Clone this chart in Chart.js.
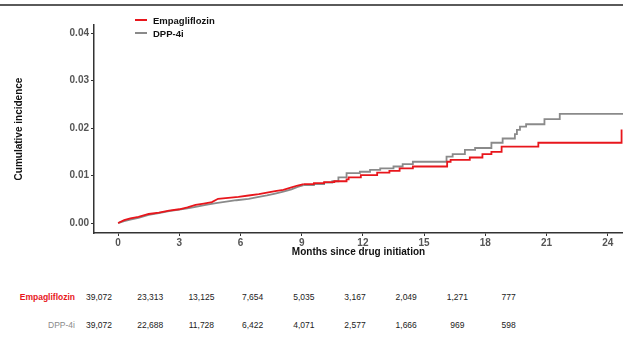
<!DOCTYPE html>
<html>
<head>
<meta charset="utf-8">
<script src="https://cdn.jsdelivr.net/npm/chart.js@4"></script>
<style>
  body { margin: 0; width: 623px; height: 345px; background: #fff; position: relative; overflow: hidden;
         font-family: "Liberation Sans", Arial, sans-serif; }
  #topRule { position: absolute; left: 0; top: 4px; width: 623px; height: 2px; background: #5a5a5a; }
  #chartBox { position: absolute; left: 0; top: 0; width: 623px; height: 262px; }
  #legend { position: absolute; left: 135px; top: 14px; font-size: 9.5px; font-weight: bold; color: #111; }
  #legend .item { height: 13px; line-height: 13px; white-space: nowrap; }
  #legend .swatch { display: inline-block; width: 12px; height: 2px; vertical-align: middle; margin-right: 6px; position: relative; top: -1px; }
  .risk { position: absolute; font-size: 8.5px; color: #222; line-height: 10px; white-space: nowrap; }
  .riskLabel { position: absolute; right: 548px; font-size: 8.5px; line-height: 10px; white-space: nowrap; }
</style>
</head>
<body>
<div id="topRule"></div>
<div id="chartBox"><canvas id="incChart" width="623" height="262"></canvas></div>
<div id="legend"></div>
<div id="riskTable"></div>

<script>
// --- data ---
const empaMonths = [0, 0.3, 0.6, 1.0, 1.5, 2.0, 2.5, 3.0, 3.4, 3.8, 4.2, 4.6, 4.9, 5.4, 5.9, 6.4, 6.9, 7.3, 7.7, 8.1, 8.5, 8.8, 9.1, 9.6, 10.1, 10.6, 11.2, 11.3, 11.9, 12.7, 13.3, 13.8, 14.45, 16.13, 16.3, 17.24, 17.86, 18.3, 18.8, 20.6, 24.68];
const empaValues = [0, 0.0006, 0.0010, 0.0013, 0.0019, 0.0022, 0.0026, 0.0029, 0.0033, 0.0038, 0.0041, 0.0044, 0.0051, 0.0053, 0.0055, 0.0058, 0.0061, 0.0064, 0.0067, 0.0070, 0.0075, 0.0079, 0.0082, 0.0084, 0.0086, 0.0088, 0.0092, 0.0096, 0.0101, 0.0106, 0.0110, 0.0115, 0.0119, 0.0129, 0.0133, 0.0138, 0.0145, 0.0150, 0.0161, 0.0169, 0.0197];

const dppMonths = [0, 0.3, 0.6, 1.0, 1.5, 2.0, 2.5, 3.0, 3.4, 3.8, 4.3, 4.8, 5.3, 5.8, 6.4, 6.9, 7.3, 7.7, 8.1, 8.5, 8.8, 9.1, 9.6, 10.1, 10.5, 10.8, 11.2, 11.85, 12.35, 12.85, 13.5, 13.95, 14.45, 16.1, 16.4, 17.0, 17.5, 18.3, 18.85, 19.45, 19.55, 19.7, 20.0, 20.9, 21.65, 24.75];
const dppValues = [0, 0.0004, 0.0007, 0.0011, 0.0017, 0.0021, 0.0025, 0.0028, 0.0031, 0.0034, 0.0038, 0.0042, 0.0045, 0.0048, 0.0051, 0.0055, 0.0058, 0.0062, 0.0066, 0.0071, 0.0076, 0.0080, 0.0082, 0.0085, 0.0088, 0.0096, 0.0105, 0.0108, 0.0112, 0.0115, 0.0119, 0.0124, 0.0129, 0.0140, 0.0145, 0.0154, 0.0158, 0.0169, 0.0178, 0.0187, 0.0196, 0.0203, 0.0208, 0.0219, 0.0230, 0.0230];

const xTicks = [0, 3, 6, 9, 12, 15, 18, 21, 24];
const yTicks = [0, 0.01, 0.02, 0.03, 0.04];

const riskEmpa = ['39,072', '23,313', '13,125', '7,654', '5,035', '3,167', '2,049', '1,271', '777'];
const riskDpp  = ['39,072', '22,688', '11,728', '6,422', '4,071', '2,577', '1,666', '969', '598'];

const RED = '#e8161c';
const GREY = '#8a8a8a';
const FONT = '"Liberation Sans", Arial, sans-serif';
// early events are so dense the curve reads as a smooth line; steps show after this
const SMOOTH_UNTIL = 9.1;

const toPoints = (xs, ys) => xs.map((x, i) => ({ x: x, y: ys[i] }));

const series = [
    { label: 'Empagliflozin', color: RED, data: toPoints(empaMonths, empaValues) },
    { label: 'DPP-4i', color: GREY, data: toPoints(dppMonths, dppValues) }
];

const datasets = [];
series.forEach(s => {
    const common = { borderColor: s.color, borderWidth: 1.8, pointRadius: 0, fill: false, label: s.label };
    datasets.push(Object.assign({}, common, { data: s.data.filter(p => p.x <= SMOOTH_UNTIL), stepped: false }));
    datasets.push(Object.assign({}, common, { data: s.data.filter(p => p.x >= SMOOTH_UNTIL), stepped: true }));
});

// --- chart ---
new Chart(document.getElementById('incChart').getContext('2d'), {
    type: 'line',
    data: { datasets: datasets },
    options: {
        responsive: false,
        animation: false,
        devicePixelRatio: 1,
        layout: { padding: { top: 25, left: 0, right: 0, bottom: 0 } },
        plugins: { legend: { display: false }, tooltip: { enabled: false } },
        scales: {
            x: {
                type: 'linear',
                min: -1.18,
                max: 24.75,
                afterBuildTicks: s => { s.ticks = xTicks.map(v => ({ value: v })); },
                afterFit: s => { s.height = 29; },
                ticks: { color: '#555', font: { family: FONT, size: 10, weight: 'bold' }, padding: 1, maxRotation: 0, autoSkip: false },
                grid: { drawOnChartArea: false, drawTicks: true, tickLength: 3, color: '#333' },
                border: { display: true, color: '#333', width: 1.5 },
                title: { display: true, text: 'Months since drug initiation', color: '#111',
                         font: { family: FONT, size: 10, weight: 'bold' }, padding: { top: 0, bottom: 4 } }
            },
            y: {
                type: 'linear',
                min: -0.0021,
                max: 0.0417,
                afterBuildTicks: s => { s.ticks = yTicks.map(v => ({ value: v })); },
                afterFit: s => { s.width = 94; },
                ticks: { color: '#555', font: { family: FONT, size: 10, weight: 'bold' }, padding: 2,
                         callback: v => v.toFixed(2) },
                grid: { drawOnChartArea: false, drawTicks: true, tickLength: 3, color: '#333' },
                border: { display: true, color: '#333', width: 1.5 },
                title: { display: true, text: 'Cumulative incidence', color: '#111',
                         font: { family: FONT, size: 10, weight: 'bold' }, padding: { top: 13, bottom: 0 } }
            }
        }
    }
});

// --- legend ---
const legend = document.getElementById('legend');
series.forEach(s => {
    const item = document.createElement('div');
    item.className = 'item';
    item.innerHTML = `<span class="swatch" style="background:${s.color}"></span>${s.label}`;
    legend.appendChild(item);
});

// --- number at risk table ---
const table = document.getElementById('riskTable');
const rows = [
    { label: 'Empagliflozin', color: RED, bold: true, values: riskEmpa, y: 292 },
    { label: 'DPP-4i', color: GREY, bold: false, values: riskDpp, y: 320 }
];
rows.forEach(r => {
    const lab = document.createElement('div');
    lab.className = 'riskLabel';
    lab.style.top = r.y + 'px';
    lab.style.color = r.color;
    lab.style.fontWeight = r.bold ? 'bold' : 'normal';
    lab.textContent = r.label;
    table.appendChild(lab);
    r.values.forEach((v, i) => {
        const cell = document.createElement('div');
        cell.className = 'risk';
        cell.style.top = r.y + 'px';
        cell.style.left = (99 + i * 51.2) + 'px';
        cell.style.transform = 'translateX(-50%)';
        cell.textContent = v;
        table.appendChild(cell);
    });
});
</script>
</body>
</html>
